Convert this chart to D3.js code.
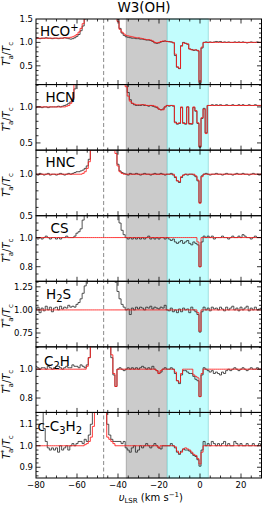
<!DOCTYPE html>
<html><head><meta charset="utf-8">
<script src="https://cdn.jsdelivr.net/npm/d3@7"></script>
<style>html,body{margin:0;padding:0;background:#fff;}svg{display:block;font-family:"DejaVu Sans",sans-serif;}</style>
</head><body>
<svg id="c" width="263" height="506"></svg>
<script>
// ---------------- DATA ----------------
const title = "W3(OH)";
const velStart = -80, velEnd = 30, velStep = 1;   // channel grid, km/s
const xTicks = [-80, -60, -40, -20, 0, 20];
const greyBand = [-36, -16];
const cyanBand = [-16, 4];
const dashedVel = -47;
const OFF = 3; // off-scale (emission beyond panel)

const species = ["HCO+", "HCN", "HNC", "CS", "H2S", "C2H", "c-C3H2"];
const yDomains = [[0.1,1.5],[0.4,1.31],[0.5,1.29],[0.7,1.15],[0.6,1.31],[0.7,1.155],[0.85,1.155]];
const yMajor = [[0.5,1.0,1.5],[0.5,1.0],[0.5,1.0],[0.8,1.0],[0.75,1.0,1.25],[0.8,1.0],[0.9,1.0,1.1]];
const yMinorStep = [0.1,0.1,0.1,0.05,0.05,0.05,0.02];
const yFmt = [".1f",".1f",".1f",".1f",".2f",".1f",".1f"];

// observed spectra (black), channels -80..30
const obsHCOp = [
 1.09,1.09,1.08,1.09,1.09,1.10,1.09,1.09,1.08,1.09,
 1.09,1.08,1.09,1.09,1.10,1.09,1.08,1.07,1.08,1.10,
 1.13,1.17,1.25,1.35,1.50,OFF,OFF,OFF,OFF,OFF,
 OFF,OFF,OFF,OFF,OFF,OFF,OFF,OFF,OFF,OFF,
 1.50,1.30,1.20,1.15,1.12,1.11,1.10,1.09,1.09,1.08,
 1.08,1.07,1.07,1.06,1.05,1.05,1.04,1.02,0.99,0.98,
 0.99,1.01,1.02,1.03,1.02,1.02,1.01,0.99,0.72,0.47,
 0.44,0.93,1.00,0.98,0.96,0.86,0.85,0.83,0.84,0.82,
 0.12,0.88,1.00,1.01,1.00,1.01,1.00,1.01,1.02,1.01,
 1.02,1.00,1.01,1.00,1.01,1.00,1.00,1.01,1.00,1.01,
 1.00,1.01,1.00,0.99,1.00,1.01,1.00,1.00,1.01,1.00,
 1.00];
const modHCOp = [
 1.09,1.09,1.09,1.09,1.09,1.09,1.09,1.09,1.09,1.09,
 1.09,1.09,1.09,1.09,1.10,1.10,1.10,1.11,1.12,1.14,
 1.17,1.22,1.30,1.40,1.55,OFF,OFF,OFF,OFF,OFF,
 OFF,OFF,OFF,OFF,OFF,OFF,OFF,OFF,OFF,OFF,
 1.45,1.28,1.22,1.18,1.15,1.14,1.13,1.12,1.11,1.10,
 1.10,1.09,1.08,1.07,1.06,1.06,1.05,1.03,1.00,0.99,
 1.00,1.02,1.03,1.03,1.02,1.01,1.01,1.00,0.75,0.48,
 0.45,0.92,0.99,0.98,0.97,0.86,0.84,0.84,0.84,0.83,
 0.15,0.90,1.00,1.00,1.00,1.00,1.00,1.00,1.00,1.00,
 1.00,1.00,1.00,1.00,1.00,1.00,1.00,1.00,1.00,1.00,
 1.00,1.00,1.00,1.00,1.00,1.00,1.00,1.00,1.00,1.00,
 1.00];

const obsHCN = [
 0.99,1.00,1.00,0.99,1.00,1.00,0.99,1.00,1.00,1.00,
 1.00,1.01,1.00,1.01,1.02,1.03,1.05,1.07,1.10,1.25,
 OFF,OFF,OFF,OFF,OFF,OFF,OFF,OFF,OFF,OFF,
 OFF,OFF,OFF,OFF,OFF,OFF,OFF,OFF,OFF,OFF,
 OFF,OFF,OFF,OFF,OFF,1.20,1.10,1.05,1.03,1.02,
 1.02,1.02,1.03,1.02,1.02,1.01,1.02,1.01,1.00,0.99,
 0.97,0.96,0.97,1.00,1.02,1.01,1.02,1.01,0.79,0.76,
 0.77,0.99,0.78,0.76,1.00,0.77,0.76,0.99,0.94,0.77,
 0.44,0.84,0.98,0.64,1.02,1.02,1.03,1.02,1.03,1.02,
 1.03,1.02,1.02,1.03,1.02,1.02,1.03,1.02,1.02,1.03,
 1.02,1.03,1.02,1.02,1.03,1.02,1.02,1.03,1.02,1.02,
 1.02];
const modHCN = [
 1.00,1.00,1.00,1.00,1.00,1.00,1.00,1.00,1.00,1.00,
 1.00,1.00,1.00,1.00,1.00,1.01,1.02,1.05,1.12,1.35,
 OFF,OFF,OFF,OFF,OFF,OFF,OFF,OFF,OFF,OFF,
 OFF,OFF,OFF,OFF,OFF,OFF,OFF,OFF,OFF,OFF,
 OFF,OFF,OFF,OFF,1.28,1.15,1.08,1.05,1.04,1.03,
 1.03,1.03,1.03,1.03,1.02,1.02,1.02,1.02,1.01,1.00,
 0.97,0.96,0.96,1.00,1.02,1.02,1.02,1.02,0.78,0.77,
 0.78,1.00,0.77,0.77,1.00,0.76,0.77,1.00,0.95,0.78,
 0.45,0.85,0.97,0.63,1.02,1.02,1.02,1.02,1.02,1.02,
 1.02,1.02,1.02,1.02,1.02,1.02,1.02,1.02,1.02,1.02,
 1.02,1.02,1.02,1.02,1.02,1.02,1.02,1.02,1.02,1.02,
 1.02];

const obsHNC = [
 1.00,0.99,1.01,1.00,0.99,1.00,1.01,0.99,1.00,1.00,
 0.99,1.00,1.01,1.00,0.99,1.00,1.01,1.00,1.01,1.02,
 1.03,1.03,1.04,1.05,1.07,1.10,1.18,1.30,OFF,OFF,
 OFF,OFF,OFF,OFF,OFF,OFF,OFF,OFF,OFF,1.30,
 1.12,1.04,1.02,1.01,1.00,0.99,1.01,1.00,1.00,1.01,
 1.00,0.99,1.00,1.01,1.00,1.00,0.99,1.00,1.01,1.00,
 1.00,1.01,1.00,0.99,1.00,1.00,1.01,0.99,0.96,0.92,
 0.90,0.96,0.99,1.00,0.99,1.00,1.00,0.99,0.97,0.92,
 0.66,0.98,1.00,1.01,1.00,0.99,1.00,1.00,1.01,1.00,
 1.00,0.99,1.00,1.01,1.00,1.00,0.99,1.00,1.01,1.00,
 1.00,1.01,1.00,1.00,0.99,1.00,1.01,1.00,1.00,0.99,
 1.00];
const modHNC = [
 1.00,1.00,1.00,1.00,1.00,1.00,1.00,1.00,1.00,1.00,
 1.00,1.00,1.00,1.00,1.00,1.00,1.00,1.00,1.00,1.00,
 1.00,1.00,1.00,1.01,1.03,1.07,1.15,1.30,OFF,OFF,
 OFF,OFF,OFF,OFF,OFF,OFF,OFF,OFF,OFF,1.25,
 1.10,1.03,1.01,1.00,1.00,1.00,1.00,1.00,1.00,1.00,
 1.00,1.00,1.00,1.00,1.00,1.00,1.00,1.00,1.00,1.00,
 1.00,1.00,1.00,1.00,1.00,1.00,1.00,1.00,0.97,0.92,
 0.91,0.97,0.99,1.00,1.00,1.00,1.00,1.00,0.98,0.93,
 0.65,0.97,1.00,1.00,1.00,1.00,1.00,1.00,1.00,1.00,
 1.00,1.00,1.00,1.00,1.00,1.00,1.00,1.00,1.00,1.00,
 1.00,1.00,1.00,1.00,1.00,1.00,1.00,1.00,1.00,1.00,
 1.00];

const obsCS = [
 1.00,0.99,1.00,0.99,1.00,1.01,1.00,0.99,1.00,1.00,
 0.99,1.00,0.99,1.00,1.00,1.01,1.00,1.00,1.00,1.01,
 1.03,1.04,1.06,1.12,1.20,OFF,OFF,OFF,OFF,OFF,
 OFF,OFF,OFF,OFF,OFF,OFF,OFF,OFF,OFF,OFF,
 1.20,1.10,1.05,1.02,1.00,0.99,1.00,0.99,1.00,0.99,
 1.00,0.99,1.00,0.99,1.00,1.01,0.99,1.00,0.99,1.00,
 0.99,1.00,1.00,0.99,1.00,0.99,0.98,0.99,0.97,0.96,
 0.97,0.98,0.96,0.97,0.98,0.96,0.95,0.97,0.96,0.95,
 0.80,0.97,1.01,1.00,1.01,1.00,1.01,0.99,1.00,1.00,
 1.00,1.01,1.00,1.00,0.99,1.00,1.01,1.00,1.00,1.01,
 1.00,1.02,1.01,1.00,1.00,0.99,1.00,1.01,1.00,1.00,
 1.00];
const modCS = [
 1.00,1.00,1.00,1.00,1.00,1.00,1.00,1.00,1.00,1.00,
 1.00,1.00,1.00,1.00,1.00,1.00,1.00,1.00,1.00,1.00,
 1.00,1.00,1.00,1.00,1.00,1.00,1.00,1.00,1.00,1.00,
 1.00,1.00,1.00,1.00,1.00,1.00,1.00,1.00,1.00,1.00,
 1.00,1.00,1.00,1.00,1.00,1.00,1.00,1.00,1.00,1.00,
 1.00,1.00,1.00,1.00,1.00,1.00,1.00,1.00,1.00,1.00,
 1.00,1.00,1.00,1.00,1.00,1.00,1.00,1.00,1.00,1.00,
 1.00,1.00,1.00,1.00,1.00,1.00,1.00,1.00,1.00,0.97,
 0.80,1.00,1.00,1.00,1.00,1.00,1.00,1.00,1.00,1.00,
 1.00,1.00,1.00,1.00,1.00,1.00,1.00,1.00,1.00,1.00,
 1.00,1.00,1.00,1.00,1.00,1.00,1.00,1.00,1.00,1.00,
 1.00];

const obsH2S = [
 1.01,1.03,0.97,1.02,0.99,1.04,1.00,1.03,0.98,1.02,
 1.03,1.00,1.04,1.01,1.03,1.02,1.05,1.03,1.04,1.03,
 1.06,1.08,1.12,1.18,1.26,OFF,OFF,OFF,OFF,OFF,
 OFF,OFF,OFF,OFF,OFF,OFF,OFF,OFF,OFF,1.30,
 1.20,1.12,1.06,1.03,1.00,1.01,0.95,1.02,1.00,1.03,
 1.01,1.03,1.02,1.00,1.03,1.02,1.04,1.01,1.03,1.02,
 1.01,1.03,1.02,1.05,1.00,0.99,1.02,0.98,1.00,0.97,
 1.01,0.98,1.02,1.00,1.01,0.97,1.03,1.00,0.98,0.95,
 0.76,0.98,1.03,1.00,1.02,0.99,1.03,1.01,1.02,1.00,
 1.03,1.01,0.99,1.03,1.00,1.02,1.04,1.00,1.02,0.99,
 1.03,1.00,1.02,1.04,0.99,1.02,1.00,1.03,1.00,1.01,
 1.02];
const modH2S = [
 1.00,1.00,1.00,1.00,1.00,1.00,1.00,1.00,1.00,1.00,
 1.00,1.00,1.00,1.00,1.00,1.00,1.00,1.00,1.00,1.00,
 1.00,1.00,1.00,1.00,1.00,1.00,1.00,1.00,1.00,1.00,
 1.00,1.00,1.00,1.00,1.00,1.00,1.00,1.00,1.00,1.00,
 1.00,1.00,1.00,1.00,1.00,1.00,1.00,1.00,1.00,1.00,
 1.00,1.00,1.00,1.00,1.00,1.00,1.00,1.00,1.00,1.00,
 1.00,1.00,1.00,1.00,1.00,1.00,1.00,1.00,1.00,1.00,
 1.00,1.00,1.00,1.00,1.00,1.00,1.00,1.00,1.00,0.97,
 0.77,1.00,1.00,1.00,1.00,1.00,1.00,1.00,1.00,1.00,
 1.00,1.00,1.00,1.00,1.00,1.00,1.00,1.00,1.00,1.00,
 1.00,1.00,1.00,1.00,1.00,1.00,1.00,1.00,1.00,1.00,
 1.00];

const obsC2H = [
 1.02,1.01,1.00,1.01,1.01,1.00,1.02,1.01,1.00,1.01,
 1.02,1.02,1.01,1.00,1.01,1.02,1.01,1.01,1.03,1.02,
 1.02,1.01,1.03,1.02,1.01,1.03,1.08,1.22,OFF,OFF,
 OFF,OFF,OFF,OFF,OFF,OFF,OFF,1.08,0.96,0.88,
 1.00,1.01,1.00,0.99,1.00,1.01,1.00,1.01,1.00,1.01,
 1.00,1.01,1.02,1.01,1.00,1.01,1.00,1.02,1.00,0.99,
 0.97,0.98,1.00,1.01,1.00,1.00,1.01,1.00,0.97,0.92,
 0.90,0.96,0.99,0.99,0.98,0.97,0.97,0.95,0.93,0.92,
 0.81,0.96,1.01,1.00,0.99,0.98,0.99,0.97,0.98,0.97,
 0.96,0.98,0.97,0.99,1.00,0.99,1.00,1.01,1.00,0.99,
 1.00,1.01,1.00,0.99,1.00,1.01,1.00,1.00,1.01,1.00,
 1.00];
const modC2H = [
 1.00,1.00,1.00,1.00,1.00,1.00,1.00,1.00,1.00,1.00,
 1.00,1.00,1.00,1.00,1.00,1.00,1.00,1.00,1.00,1.00,
 1.00,1.00,1.00,1.00,1.00,1.02,1.08,1.20,OFF,OFF,
 OFF,OFF,OFF,OFF,OFF,OFF,OFF,1.10,0.97,0.88,
 1.00,1.00,1.00,1.00,1.00,1.00,1.00,1.00,1.00,1.00,
 1.00,1.00,1.00,1.00,1.00,1.00,1.00,1.00,1.00,0.99,
 0.97,0.99,1.00,1.00,1.00,1.00,1.00,1.00,0.98,0.92,
 0.91,0.97,1.00,1.00,1.00,1.00,1.00,0.96,0.95,0.94,
 0.81,0.97,1.00,1.00,1.00,1.00,1.00,1.00,1.00,1.00,
 1.00,1.00,1.00,1.00,1.00,1.00,1.00,1.00,1.00,1.00,
 1.00,1.00,1.00,1.00,1.00,1.00,1.00,1.00,1.00,1.00,
 1.00];

const obsCC3H2 = [
 OFF,OFF,OFF,OFF,1.08,1.02,0.99,0.98,0.99,0.98,
 0.99,0.97,1.00,0.98,0.99,1.00,0.98,1.00,1.01,1.00,
 1.01,1.02,1.02,1.01,1.03,1.02,1.05,1.10,OFF,OFF,
 OFF,OFF,OFF,OFF,OFF,1.10,1.05,1.03,1.02,1.02,
 1.02,1.02,1.01,1.02,0.99,0.98,0.97,0.99,1.00,0.97,
 0.98,1.00,0.99,1.00,1.01,1.00,0.99,1.00,1.01,1.00,
 0.99,0.985,1.00,1.00,1.00,1.00,1.01,1.00,0.99,0.97,
 0.96,0.975,0.985,0.98,0.98,0.975,0.965,0.955,0.95,0.935,
 0.905,0.98,1.02,1.00,1.01,1.00,1.02,1.01,1.00,1.01,
 1.00,1.01,1.02,1.00,1.01,1.00,1.00,1.02,1.01,1.00,
 1.01,1.00,1.00,1.01,1.00,1.00,1.01,1.00,1.00,1.01,
 1.00];
const modCC3H2 = [
 1.00,1.00,1.00,1.00,1.00,1.00,1.00,1.00,1.00,1.00,
 1.00,1.00,1.00,1.00,1.00,1.00,1.00,1.00,1.00,1.00,
 1.00,1.00,1.00,1.00,1.005,1.01,1.02,1.04,1.09,OFF,
 OFF,OFF,OFF,OFF,OFF,1.04,1.03,1.02,1.01,1.00,
 1.00,1.00,1.00,1.00,1.00,1.00,1.00,1.00,1.00,1.00,
 1.00,1.00,1.00,1.00,1.00,1.00,1.00,1.00,1.00,1.00,
 0.99,1.00,1.00,1.00,1.00,1.00,1.00,1.00,0.995,0.975,
 0.965,0.97,0.985,0.99,0.985,0.98,0.97,0.96,0.955,0.94,
 0.915,0.97,1.00,1.00,1.00,1.00,1.00,1.00,1.00,1.00,
 1.00,1.00,1.00,1.00,1.00,1.00,1.00,1.00,1.00,1.00,
 1.00,1.00,1.00,1.00,1.00,1.00,1.00,1.00,1.00,1.00,
 1.00];

const observed = [obsHCOp, obsHCN, obsHNC, obsCS, obsH2S, obsC2H, obsCC3H2];
const models   = [modHCOp, modHCN, modHNC, modCS, modH2S, modC2H, modCC3H2];

// ---------------- LAYOUT ----------------
const svg = d3.select("#c");
const L = 36, R = 261.5, T = 19, B = 478;
const nP = species.length;
const pH = (B - T) / nP;
const vel = d3.range(velStart, velEnd + velStep/2, velStep);
const x = d3.scaleLinear().domain([velStart, velEnd]).range([L, R]);

// bands
svg.append("rect").attr("x", x(greyBand[0])).attr("y", T).attr("width", x(greyBand[1]) - x(greyBand[0])).attr("height", B - T)
  .attr("fill", "#cbcbcb").attr("stroke", "#9a9a9a").attr("stroke-width", 0.7);
svg.append("rect").attr("x", x(cyanBand[0])).attr("y", T).attr("width", x(cyanBand[1]) - x(cyanBand[0])).attr("height", B - T)
  .attr("fill", "#c2fdfd").attr("stroke", "#7fd4d4").attr("stroke-width", 0.7);
// dashed line
svg.append("line").attr("x1", x(dashedVel)).attr("x2", x(dashedVel)).attr("y1", T).attr("y2", B)
  .attr("stroke", "#8a8a8a").attr("stroke-width", 1).attr("stroke-dasharray", "4,2.5");

const defs = svg.append("defs");

function labelTspans(g, name) {
  const parts = {
    "HCO+": [["HCO",""],["+","sup"]],
    "HCN": [["HCN",""]],
    "HNC": [["HNC",""]],
    "CS": [["CS",""]],
    "H2S": [["H",""],["2","sub"],["S",""]],
    "C2H": [["C",""],["2","sub"],["H",""]],
    "c-C3H2": [["c-C",""],["3","sub"],["H",""],["2","sub"]]
  }[name];
  parts.forEach(([t, k]) => {
    const ts = g.append("tspan").text(t);
    if (k === "sub") ts.attr("dy", 3).attr("font-size", "10px");
    else if (k === "sup") ts.attr("dy", -5).attr("font-size", "10px");
    else ts.attr("dy", 0);
  });
  // reset shifts
  let off = 0;
  g.selectAll("tspan").each(function(d, i) {
    const el = d3.select(this);
    const dy = +el.attr("dy");
    el.attr("dy", dy - off);
    off = dy;
  });
}
const labelX = [40, 45.5, 45.5, 50.5, 46, 44, 37.5];
const labelDy = [17, 17, 16.5, 17.5, 18, 19, 19];

species.forEach((sp, i) => {
  const top = T + i * pH, bot = top + pH;
  const y = d3.scaleLinear().domain(yDomains[i]).range([bot, top]);
  const g = svg.append("g");
  defs.append("clipPath").attr("id", "cp" + i).append("rect")
    .attr("x", L).attr("y", top).attr("width", R - L).attr("height", pH);
  const line = d3.line().curve(d3.curveStep).x((d, j) => x(vel[j])).y(d => y(d));
  g.append("path").attr("clip-path", `url(#cp${i})`).attr("d", line(observed[i]))
    .attr("fill", "none").attr("stroke", "#262626").attr("stroke-width", 0.8);
  g.append("path").attr("clip-path", `url(#cp${i})`).attr("d", line(models[i]))
    .attr("fill", "none").attr("stroke", "#ff1a1a").attr("stroke-opacity", 0.85).attr("stroke-width", 1);

  // frame
  g.append("rect").attr("x", L).attr("y", top).attr("width", R - L).attr("height", pH)
    .attr("fill", "none").attr("stroke", "#000").attr("stroke-width", 1);

  // x ticks (inward, top & bottom)
  const xMinor = d3.range(velStart, velEnd + 0.1, 5);
  xMinor.forEach(v => {
    const maj = xTicks.includes(v);
    const len = maj ? 4.5 : 2.5;
    if (v <= velStart || v >= velEnd) return;
    g.append("line").attr("x1", x(v)).attr("x2", x(v)).attr("y1", top).attr("y2", top + len).attr("stroke", "#000").attr("stroke-width", 0.8);
    g.append("line").attr("x1", x(v)).attr("x2", x(v)).attr("y1", bot).attr("y2", bot - len).attr("stroke", "#000").attr("stroke-width", 0.8);
  });
  // y ticks
  const [d0, d1] = yDomains[i];
  const st = yMinorStep[i];
  const minors = d3.range(Math.ceil(d0 / st - 1e-6) * st, d1 + 1e-9, st).map(v => +v.toFixed(4));
  minors.forEach(v => {
    const maj = yMajor[i].some(m => Math.abs(m - v) < 1e-6);
    const len = maj ? 4.5 : 2.5;
    if (y(v) < top + 0.3 || y(v) > bot - 0.3) return;
    g.append("line").attr("x1", L).attr("x2", L + len).attr("y1", y(v)).attr("y2", y(v)).attr("stroke", "#000").attr("stroke-width", 0.8);
    g.append("line").attr("x1", R).attr("x2", R - len).attr("y1", y(v)).attr("y2", y(v)).attr("stroke", "#000").attr("stroke-width", 0.8);
  });
  yMajor[i].forEach(v => {
    g.append("text").attr("x", L - 3).attr("y", y(v)).attr("dy", "0.35em").attr("text-anchor", "end")
      .attr("font-size", "8.5px").attr("fill", "#000").text(d3.format(yFmt[i])(v));
  });

  // species label
  const lt = g.append("text").attr("x", labelX[i]).attr("y", top + labelDy[i]).attr("font-size", "13.5px").attr("fill", "#000");
  labelTspans(lt, sp);

  // y axis label
  const yl = g.append("text").attr("transform", `translate(10,${top + pH / 2 + 2}) rotate(-90)`)
    .attr("text-anchor", "middle").attr("font-size", "10px").attr("fill", "#000");
  yl.append("tspan").attr("font-style", "italic").text("T");
  yl.append("tspan").attr("font-size", "7px").attr("dy", -4).text("*");
  yl.append("tspan").attr("font-size", "7px").attr("dx", -3.5).attr("dy", 7).text("a");
  yl.append("tspan").attr("dy", -3).text("/");
  yl.append("tspan").attr("font-style", "italic").text("T");
  yl.append("tspan").attr("font-size", "7px").attr("dy", 3).text("c");
});

// x tick labels
xTicks.forEach(v => {
  svg.append("text").attr("x", x(v)).attr("y", B + 9.5).attr("text-anchor", "middle")
    .attr("font-size", "8.5px").attr("fill", "#000").text(v < 0 ? "\u2212" + Math.abs(v) : String(v));
});
// x label
const xl = svg.append("text").attr("x", x(-24)).attr("y", B + 23).attr("text-anchor", "middle").attr("font-size", "10px").attr("fill", "#000");
xl.append("tspan").attr("font-style", "italic").text("\u03C5");
xl.append("tspan").attr("font-size", "7px").attr("dy", 2).text("LSR");
xl.append("tspan").attr("dy", -2).text(" (km s");
xl.append("tspan").attr("font-size", "7px").attr("dy", -4).text("\u22121");
xl.append("tspan").attr("dy", 4).text(")");

// title
svg.append("text").attr("x", 144).attr("y", 12).attr("text-anchor", "middle").attr("font-size", "13.5px").attr("fill", "#000").text(title);
</script>
</body></html>
